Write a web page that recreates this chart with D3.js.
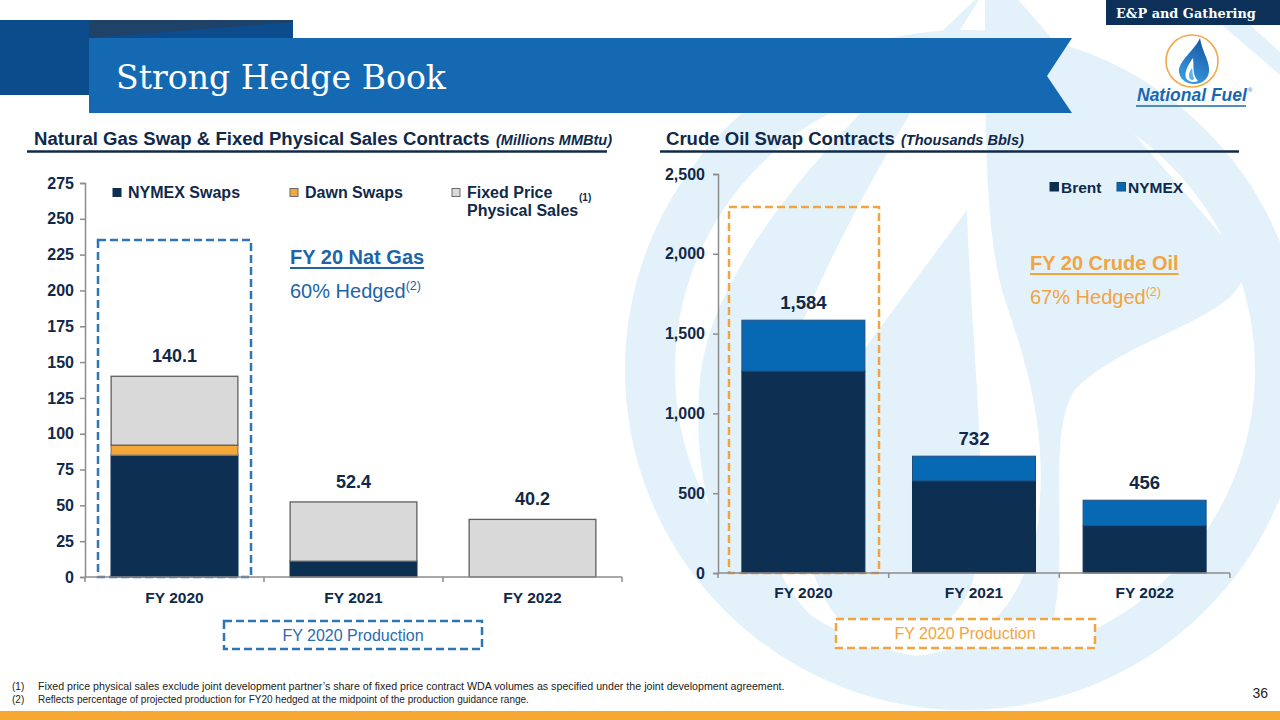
<!DOCTYPE html>
<html><head><meta charset="utf-8">
<script src="https://cdn.jsdelivr.net/npm/d3@7"></script>
<style>body{margin:0;background:#fff;overflow:hidden} svg{display:block}</style>
</head><body><svg id="c" width="1280" height="720" font-family="Liberation Sans, Arial, sans-serif"></svg>
<script>
// ---------- DATA ----------
const gasCategories = ["FY 2020", "FY 2021", "FY 2022"];
const gasNymexSwaps = [85, 11, 0];
const gasDawnSwaps = [7, 0, 0];
const gasFixedPrice = [48.1, 41.4, 40.2];
const gasTotalLabels = ["140.1", "52.4", "40.2"];
const gasTicks = [0, 25, 50, 75, 100, 125, 150, 175, 200, 225, 250, 275];
const gasLegend = ["NYMEX Swaps", "Dawn Swaps", "Fixed Price", "Physical Sales"];

const oilCategories = ["FY 2020", "FY 2021", "FY 2022"];
const oilBrent = [1265, 577, 296];
const oilNymex = [319, 155, 160];
const oilTotalLabels = ["1,584", "732", "456"];
const oilTicks = [0, 500, 1000, 1500, 2000, 2500];
const oilLegend = ["Brent", "NYMEX"];

const footnotes = [
  "Fixed price physical sales exclude joint development partner\u2019s share of fixed price contract WDA volumes as specified under the joint development agreement.",
  "Reflects percentage of projected production for FY20 hedged at the midpoint of the production guidance range."
];

// ---------- STYLE ----------
const NAVY = "#0c2f52", TXT = "#10294a", DAWN = "#f5a83a", GRAY = "#d9d9d9",
      BLUE = "#0768b4", TBLUE = "#2064a8", ORANGE = "#f2a440", WM = "#e3f2fa",
      AX = "#8c8c8c", SANS = "Liberation Sans, Arial, sans-serif", SERIF = "DejaVu Serif, serif";

const svg = d3.select("#c");
function fit(sel, w) {
  const L = sel.node().getComputedTextLength();
  const fs = parseFloat(sel.attr("font-size"));
  sel.attr("font-size", fs * w / L);
  return sel;
}

// ---------- WATERMARK ----------
const wm = svg.append("g");
wm.append("path").attr("fill", WM)
  .attr("d", "M1010,-10 L1230,245 C1290,310 1130,330 1075,390 C1040,440 1080,590 1040,655 C1000,715 870,710 810,665 C720,600 690,480 700,380 C712,250 860,110 985,-10 Z");
wm.append("path").attr("fill", "#fff")
  .attr("d", "M985,-10 C985,130 985,240 1005,300 C1025,360 1045,420 1040,500 C1035,590 990,645 925,655 C840,665 770,600 760,500 C750,390 860,190 985,-10 Z");
wm.append("path").attr("fill", WM)
  .attr("d", "M967,210 L860,355 C800,440 785,560 840,620 C890,665 965,640 978,560 C988,480 970,320 967,210 Z");
wm.append("circle").attr("cx", 965).attr("cy", 370).attr("r", 315)
  .attr("fill", "none").attr("stroke", WM).attr("stroke-width", 50);
wm.append("path").attr("fill", WM)
  .attr("d", "M1222,25 L1250,25 L1280,52 L1280,75 Z");

// ---------- BANNER ----------
svg.append("rect").attr("x", 0).attr("y", 20).attr("width", 293).attr("height", 75).attr("fill", "#0d4c8c");
svg.append("path").attr("d", "M89,38 L293,22 L293,20 L89,20 Z").attr("fill", "#1f4269");
svg.append("path").attr("d", "M89,38 L1072,38 L1047,76 L1072,113 L89,113 Z").attr("fill", "#1469b2");
fit(svg.append("text").attr("x", 116).attr("y", 89).attr("fill", "#fff")
  .attr("font-family", SERIF).attr("font-size", 32).text("Strong Hedge Book"), 330);

svg.append("rect").attr("x", 1106).attr("y", 0).attr("width", 174).attr("height", 25).attr("fill", "#0c3057");
fit(svg.append("text").attr("x", 1116).attr("y", 18).attr("fill", "#fff")
  .attr("font-family", SERIF).attr("font-weight", "bold").attr("font-size", 13).text("E&P and Gathering"), 140);

// ---------- LOGO ----------
const logo = svg.append("g");
const defs = svg.append("defs");
const lg = defs.append("linearGradient").attr("id", "dg").attr("x1", 0.6).attr("y1", 0).attr("x2", 0.2).attr("y2", 1);
lg.append("stop").attr("offset", 0).attr("stop-color", "#1a57a6");
lg.append("stop").attr("offset", 1).attr("stop-color", "#39a0e2");
logo.append("circle").attr("cx", 1192).attr("cy", 61).attr("r", 26).attr("fill", "#fff")
  .attr("stroke", "#f3a94a").attr("stroke-width", 1.6);
logo.append("path").attr("fill", "url(#dg)")
  .attr("d", "M1200,38 C1195,50 1178,61 1179,72 C1180,80 1187,84 1194,84 C1203,84 1210,78 1209,68 C1208,58 1202,51 1200,38 Z");
logo.append("path").attr("fill", "#fff")
  .attr("d", "M1193,58 C1188,65 1184,72 1186,78 C1188,82 1194,83 1198,81 C1192,75 1194,66 1193,58 Z");
logo.append("path").attr("fill", "#5bb4ea")
  .attr("d", "M1192,68 C1189,72 1188,76 1190,79 C1192,81 1194,80 1194,78 C1192,75 1193,71 1192,68 Z");
fit(logo.append("text").attr("x", 1137).attr("y", 101).attr("fill", "#1a67b0")
  .attr("font-weight", "bold").attr("font-style", "italic").attr("font-size", 19).text("National Fuel"), 110);
logo.append("text").attr("x", 1248).attr("y", 92).attr("fill", "#1a67b0").attr("font-size", 6).text("\u00ae");
logo.append("line").attr("x1", 1136).attr("x2", 1246).attr("y1", 106).attr("y2", 106)
  .attr("stroke", "#1a67b0").attr("stroke-width", 1.5);

// ---------- SUBTITLES ----------
function subtitle(x, main, mainW, paren, parenW, lineX1, lineX2) {
  fit(svg.append("text").attr("x", x).attr("y", 145).attr("fill", TXT).attr("font-weight", "bold")
    .attr("font-size", 16).text(main), mainW);
  fit(svg.append("text").attr("x", x + mainW + 6).attr("y", 145).attr("fill", TXT).attr("font-weight", "bold")
    .attr("font-style", "italic").attr("font-size", 13).text(paren), parenW);
  svg.append("line").attr("x1", lineX1).attr("x2", lineX2).attr("y1", 151.5).attr("y2", 151.5)
    .attr("stroke", "#12294a").attr("stroke-width", 2.5);
}
subtitle(34, "Natural Gas Swap & Fixed Physical Sales Contracts", 456, "(Millions MMBtu)", 116, 27, 607);
subtitle(666, "Crude Oil Swap Contracts", 229, "(Thousands Bbls)", 123, 660, 1239);

// ---------- COMMON AXIS HELPERS ----------
function styleYAxis(g) {
  g.select(".domain").attr("stroke", AX).attr("stroke-width", 1.5);
  g.selectAll(".tick line").attr("stroke", AX).attr("stroke-width", 1.5);
  g.selectAll(".tick text").attr("fill", TXT).attr("font-size", 16).attr("font-weight", "bold")
    .attr("font-family", SANS);
}
function xAxis(x, y0, cats, labelY) {
  const g = svg.append("g");
  const r = x.range();
  const step = x.step(), pi = x.paddingInner();
  g.append("line").attr("x1", r[0]).attr("x2", r[1]).attr("y1", y0).attr("y2", y0)
    .attr("stroke", AX).attr("stroke-width", 1.5);
  const bounds = [r[0]].concat(cats.map(c => x(c) + x.bandwidth() + step * pi / 2));
  g.selectAll(".xt").data(bounds).join("line").attr("x1", d => d).attr("x2", d => d)
    .attr("y1", y0).attr("y2", y0 + 5).attr("stroke", AX).attr("stroke-width", 1.5);
  const lab = svg.append("g").attr("transform", `translate(0,${labelY})`)
    .call(d3.axisBottom(x).tickSize(0).tickPadding(0));
  lab.select(".domain").remove();
  lab.selectAll(".tick text").attr("fill", TXT).attr("font-size", 15.5).attr("font-weight", "bold")
    .attr("dy", 0).attr("font-family", SANS);
}

// ---------- GAS CHART ----------
const gx = d3.scaleBand().domain(gasCategories).range([85, 622]).paddingInner(0.292).paddingOuter(0.146);
const gy = d3.scaleLinear().domain([0, 275]).range([577, 183]);

svg.append("rect").attr("x", 98).attr("y", 240).attr("width", 153).attr("height", 337)
  .attr("fill", "none").attr("stroke", "#2e75b6").attr("stroke-width", 2.5).attr("stroke-dasharray", "8,4");

const gasSeries = [
  {fill: NAVY, stroke: NAVY},
  {fill: DAWN, stroke: "#7f7f7f"},
  {fill: GRAY, stroke: "#5f5f5f"}
];
const gasTable = gasCategories.map((c, i) => ({cat: c, nymex: gasNymexSwaps[i], dawn: gasDawnSwaps[i], fixed: gasFixedPrice[i]}));
const gasStack = d3.stack().keys(["nymex", "dawn", "fixed"])(gasTable);
const gasG = svg.append("g");
gasStack.forEach((layer, li) => {
  gasG.selectAll(".g" + li).data(layer.filter(d => d[1] - d[0] > 0)).join("rect")
    .attr("x", d => gx(d.data.cat)).attr("width", gx.bandwidth())
    .attr("y", d => gy(d[1])).attr("height", d => gy(d[0]) - gy(d[1]))
    .attr("fill", gasSeries[li].fill).attr("stroke", gasSeries[li].stroke).attr("stroke-width", 1.3);
});
gasG.selectAll(".gl").data(gasCategories).join("text")
  .attr("x", (c) => gx(c) + gx.bandwidth() / 2)
  .attr("y", (c, i) => gy(gasNymexSwaps[i] + gasDawnSwaps[i] + gasFixedPrice[i]) - 14)
  .attr("text-anchor", "middle").attr("fill", TXT).attr("font-weight", "bold").attr("font-size", 18)
  .text((c, i) => gasTotalLabels[i]);

const gya = svg.append("g").attr("transform", "translate(85,0)")
  .call(d3.axisLeft(gy).tickValues(gasTicks).tickSize(5).tickPadding(6));
styleYAxis(gya);
xAxis(gx, 577, gasCategories, 603);

// legend
const gl = svg.append("g");
const gLegItems = [
  {x: 113, fill: NAVY, stroke: NAVY, t: gasLegend[0]},
  {x: 290, fill: DAWN, stroke: "#6b6b6b", t: gasLegend[1]},
  {x: 452, fill: GRAY, stroke: "#6b6b6b", t: gasLegend[2]}
];
gLegItems.forEach(d => {
  gl.append("rect").attr("x", d.x).attr("y", 188.5).attr("width", 8).attr("height", 8)
    .attr("fill", d.fill).attr("stroke", d.stroke).attr("stroke-width", 1);
  gl.append("text").attr("x", d.x + 15).attr("y", 198).attr("fill", TXT).attr("font-weight", "bold")
    .attr("font-size", 16).text(d.t);
});
gl.append("text").attr("x", 467).attr("y", 216).attr("fill", TXT).attr("font-weight", "bold")
  .attr("font-size", 16).text(gasLegend[3]);
gl.append("text").attr("x", 579).attr("y", 201).attr("fill", TXT).attr("font-weight", "bold")
  .attr("font-size", 10).text("(1)");

// annotation
const t1 = svg.append("text").attr("x", 290).attr("y", 264).attr("fill", TBLUE).attr("font-weight", "bold")
  .attr("font-size", 20).text("FY 20 Nat Gas");
const w1 = t1.node().getComputedTextLength();
svg.append("line").attr("x1", 290).attr("x2", 290 + w1).attr("y1", 268).attr("y2", 268)
  .attr("stroke", TBLUE).attr("stroke-width", 2);
const h1 = svg.append("text").attr("x", 290).attr("y", 298).attr("fill", TBLUE).attr("font-size", 20);
h1.append("tspan").text("60% Hedged");
h1.append("tspan").attr("font-size", 12.5).attr("dy", -8).text("(2)");

svg.append("rect").attr("x", 224).attr("y", 621).attr("width", 258).attr("height", 28)
  .attr("fill", "#fff").attr("stroke", "#2e75b6").attr("stroke-width", 2.5).attr("stroke-dasharray", "8,4");
svg.append("text").attr("x", 353).attr("y", 641).attr("text-anchor", "middle").attr("fill", "#2a6cb0")
  .attr("font-size", 16).text("FY 2020 Production");

// ---------- OIL CHART ----------
const ox = d3.scaleBand().domain(oilCategories).range([718, 1230]).paddingInner(0.279).paddingOuter(0.14);
const oy = d3.scaleLinear().domain([0, 2500]).range([573, 174]);

svg.append("rect").attr("x", 729).attr("y", 207).attr("width", 150).attr("height", 366)
  .attr("fill", "none").attr("stroke", ORANGE).attr("stroke-width", 2.5).attr("stroke-dasharray", "8,4");

const oilTable = oilCategories.map((c, i) => ({cat: c, brent: oilBrent[i], nymex: oilNymex[i]}));
const oilStack = d3.stack().keys(["brent", "nymex"])(oilTable);
const oilFills = [NAVY, BLUE];
const oG = svg.append("g");
oilStack.forEach((layer, li) => {
  oG.selectAll(".o" + li).data(layer).join("rect")
    .attr("x", d => ox(d.data.cat)).attr("width", ox.bandwidth())
    .attr("y", d => oy(d[1])).attr("height", d => oy(d[0]) - oy(d[1]))
    .attr("fill", oilFills[li]).attr("stroke", li ? "#1d4f80" : NAVY).attr("stroke-width", 1);
});
oG.selectAll(".ol").data(oilCategories).join("text")
  .attr("x", c => ox(c) + ox.bandwidth() / 2)
  .attr("y", (c, i) => oy(oilBrent[i] + oilNymex[i]) - 11)
  .attr("text-anchor", "middle").attr("fill", TXT).attr("font-weight", "bold").attr("font-size", 18.5)
  .text((c, i) => oilTotalLabels[i]);

const oya = svg.append("g").attr("transform", "translate(718,0)")
  .call(d3.axisLeft(oy).tickValues(oilTicks).tickSize(5).tickPadding(8).tickFormat(d3.format(",")));
styleYAxis(oya);
xAxis(ox, 573, oilCategories, 598);

const ol = svg.append("g");
[{x: 1050, fill: NAVY, t: oilLegend[0]}, {x: 1117, fill: BLUE, t: oilLegend[1]}].forEach(d => {
  ol.append("rect").attr("x", d.x).attr("y", 182.5).attr("width", 8.5).attr("height", 8.5).attr("fill", d.fill)
    .attr("stroke", d.fill === BLUE ? "#1d4f80" : NAVY).attr("stroke-width", 1);
  ol.append("text").attr("x", d.x + 11).attr("y", 192.5).attr("fill", TXT).attr("font-weight", "bold")
    .attr("font-size", 15.5).text(d.t);
});

const t2 = svg.append("text").attr("x", 1030).attr("y", 270).attr("fill", ORANGE).attr("font-weight", "bold")
  .attr("font-size", 20).text("FY 20 Crude Oil");
const w2 = t2.node().getComputedTextLength();
svg.append("line").attr("x1", 1030).attr("x2", 1030 + w2).attr("y1", 274).attr("y2", 274)
  .attr("stroke", ORANGE).attr("stroke-width", 2);
const h2 = svg.append("text").attr("x", 1030).attr("y", 304).attr("fill", ORANGE).attr("font-size", 20);
h2.append("tspan").text("67% Hedged");
h2.append("tspan").attr("font-size", 12.5).attr("dy", -8).text("(2)");

svg.append("rect").attr("x", 836).attr("y", 619).attr("width", 259).attr("height", 29)
  .attr("fill", "#fff").attr("stroke", ORANGE).attr("stroke-width", 2.5).attr("stroke-dasharray", "8,4");
svg.append("text").attr("x", 965).attr("y", 639).attr("text-anchor", "middle").attr("fill", ORANGE)
  .attr("font-size", 16).text("FY 2020 Production");

// ---------- FOOTNOTES ----------
footnotes.forEach((f, i) => {
  svg.append("text").attr("x", 12).attr("y", 690 + i * 13).attr("fill", "#222").attr("font-size", 10).text(`(${i + 1})`);
  const t = svg.append("text").attr("x", 38).attr("y", 690 + i * 13).attr("fill", "#222").attr("font-size", 10).text(f);
  if (i === 0) fit(t, 748);
});
svg.append("text").attr("x", 1268).attr("y", 698).attr("text-anchor", "end").attr("fill", "#222")
  .attr("font-size", 14).text("36");
svg.append("rect").attr("x", 0).attr("y", 711).attr("width", 1280).attr("height", 9).attr("fill", "#f6a832");
</script></body></html>
